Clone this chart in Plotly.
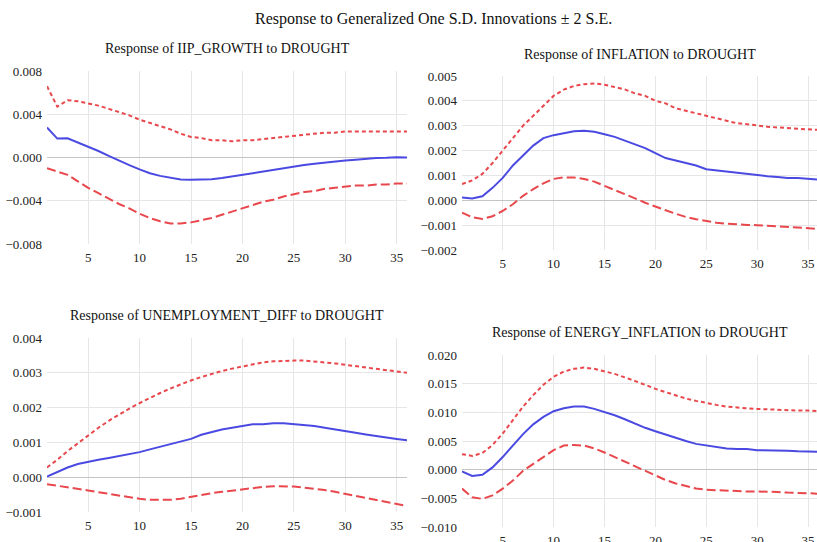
import plotly.graph_objects as go

W, H = 817, 542

periods = list(range(1, 37))

# Response of IIP_GROWTH to DROUGHT
iip_resp = [0.00277, 0.00175, 0.00178, 0.0014, 0.0010, 0.0006, 0.00015, -0.0003, -0.0007, -0.0011,
            -0.00145, -0.0017, -0.0019, -0.00203, -0.00206, -0.00206, -0.0020, -0.0019, -0.00175, -0.0016,
            -0.00145, -0.0013, -0.0011, -0.00095, -0.00083, -0.0007, -0.00058, -0.00046, -0.00037, -0.00028,
            -0.0002, -0.0001, -0.00005, -0.00003, 0.00002, 0.0]
iip_upper = [0.0066, 0.0047, 0.0053, 0.0052, 0.0050, 0.0048, 0.0045, 0.0042, 0.0039, 0.0035,
             0.0032, 0.0029, 0.0026, 0.0022, 0.0019, 0.0018, 0.0016, 0.0016, 0.0015, 0.0016,
             0.0016, 0.0017, 0.0018, 0.0019, 0.0020, 0.0021, 0.0022, 0.0023, 0.0023, 0.0024,
             0.0024, 0.0024, 0.0024, 0.0024, 0.0024, 0.0024]
iip_lower = [-0.0010, -0.0013, -0.0016, -0.0022, -0.0028, -0.0033, -0.0038, -0.0043, -0.0047, -0.0052,
             -0.0056, -0.0059, -0.0061, -0.0061, -0.0060, -0.0058, -0.0056, -0.0053, -0.0050, -0.0047,
             -0.0044, -0.0041, -0.0039, -0.0036, -0.0034, -0.0032, -0.0031, -0.0029, -0.0028, -0.0027,
             -0.0026, -0.0026, -0.0025, -0.0025, -0.0024, -0.0024]

# Response of INFLATION to DROUGHT
infl_resp = [0.00011, 0.00007, 0.00016, 0.0005, 0.0009, 0.0014, 0.0018, 0.0022, 0.0025, 0.00262,
             0.0027, 0.00278, 0.0028, 0.00276, 0.00266, 0.00255, 0.0024, 0.00225, 0.0021, 0.0019,
             0.0017, 0.0016, 0.0015, 0.0014, 0.00125, 0.0012, 0.00115, 0.0011, 0.00105, 0.0010,
             0.00097, 0.00094, 0.0009, 0.0009, 0.00087, 0.00083]
infl_upper = [0.00065, 0.0008, 0.00106, 0.0015, 0.0020, 0.0025, 0.0030, 0.0034, 0.0038, 0.0042,
              0.00445, 0.0046, 0.00467, 0.0047, 0.00465, 0.00457, 0.00446, 0.0043, 0.0042, 0.0040,
              0.0039, 0.0037, 0.0036, 0.0035, 0.0034, 0.0033, 0.0032, 0.0031, 0.00306, 0.0030,
              0.00296, 0.00293, 0.0029, 0.00288, 0.00285, 0.00283]
infl_lower = [-0.0005, -0.00068, -0.00075, -0.00064, -0.00043, -0.00016, 0.00018, 0.00045, 0.00068, 0.00086,
              0.00092, 0.00092, 0.00086, 0.00075, 0.00058, 0.00042, 0.00024, 0.00008, -0.0001, -0.00026,
              -0.0004, -0.00054, -0.00067, -0.00076, -0.00084, -0.0009, -0.00094, -0.00097, -0.00099, -0.0010,
              -0.00102, -0.00105, -0.00107, -0.0011, -0.00113, -0.00115]

# Response of UNEMPLOYMENT_DIFF to DROUGHT
unemp_resp = [0.00002, 0.00015, 0.00028, 0.00038, 0.00045, 0.0005, 0.00055, 0.0006, 0.00066, 0.00072,
              0.0008, 0.00087, 0.00095, 0.00103, 0.0011, 0.00122, 0.0013, 0.00137, 0.00142, 0.00147,
              0.00152, 0.00152, 0.00155, 0.00155, 0.00153, 0.0015, 0.00147, 0.00142, 0.00138, 0.00133,
              0.00128, 0.00123, 0.00118, 0.00114, 0.0011, 0.00106]
unemp_upper = [0.00028, 0.0005, 0.00075, 0.00098, 0.0012, 0.00142, 0.00162, 0.0018, 0.00197, 0.00213,
               0.00228, 0.00242, 0.00255, 0.00267, 0.00278, 0.00288, 0.00297, 0.00305, 0.00312, 0.00318,
               0.00326, 0.0033, 0.00333, 0.00335, 0.00335, 0.00335, 0.00333, 0.0033, 0.00327, 0.00323,
               0.00319, 0.00315, 0.00311, 0.00307, 0.00303, 0.0030]
unemp_lower = [-0.0002, -0.00024, -0.00028, -0.00033, -0.00038, -0.00043, -0.00048, -0.00053, -0.00058, -0.00062,
               -0.00065, -0.00066, -0.00065, -0.00062, -0.00056, -0.00051, -0.00046, -0.00042, -0.00038, -0.00034,
               -0.0003, -0.00028, -0.00026, -0.00026, -0.00027, -0.0003, -0.00033, -0.00037, -0.00042, -0.00048,
               -0.00053, -0.00058, -0.00064, -0.0007, -0.00077, -0.00083]

# Response of ENERGY_INFLATION to DROUGHT
energy_resp = [-0.0003, -0.0011, -0.0009, 0.0004, 0.0022, 0.0043, 0.0062, 0.0079, 0.0092, 0.0102,
               0.0107, 0.0110, 0.0110, 0.0106, 0.0101, 0.0095, 0.0088, 0.0080, 0.0073, 0.0067,
               0.0061, 0.0055, 0.0050, 0.0045, 0.0042, 0.0039, 0.0037, 0.0036, 0.0036, 0.0034,
               0.0034, 0.0033, 0.0033, 0.0032, 0.0031, 0.0031]
energy_upper = [0.0027, 0.0024, 0.0029, 0.0043, 0.0063, 0.0086, 0.0110, 0.0130, 0.0148, 0.0162,
                0.0171, 0.0176, 0.0178, 0.0176, 0.0172, 0.0167, 0.0161, 0.0155, 0.0148, 0.0141,
                0.0135, 0.0129, 0.0124, 0.0120, 0.0116, 0.0113, 0.0110, 0.0108, 0.0107, 0.0106,
                0.0105, 0.0105, 0.0104, 0.0103, 0.0103, 0.0102]
energy_lower = [-0.0033, -0.0048, -0.0051, -0.0045, -0.0033, -0.0019, -0.0002, 0.0010, 0.0022, 0.0034,
                0.0042, 0.0043, 0.0042, 0.0037, 0.0030, 0.0022, 0.0014, 0.0006, -0.0003, -0.0011,
                -0.0018, -0.0024, -0.0029, -0.0033, -0.0035, -0.0036, -0.0037, -0.0038, -0.0038, -0.0038,
                -0.0038, -0.0039, -0.0040, -0.0040, -0.0041, -0.0042]

x_ticks = [5, 10, 15, 20, 25, 30, 35]

panels = [
    dict(title="Response of IIP_GROWTH to DROUGHT", resp=iip_resp, upper=iip_upper, lower=iip_lower,
         yticks=[-0.008, -0.004, 0.0, 0.004, 0.008], yrange=[-0.008, 0.008],
         xpx=(47, 407), ypx=(71, 244), title_y=48, xmax=36),
    dict(title="Response of INFLATION to DROUGHT", resp=infl_resp, upper=infl_upper, lower=infl_lower,
         yticks=[-0.002, -0.001, 0.0, 0.001, 0.002, 0.003, 0.004, 0.005], yrange=[-0.002, 0.005],
         xpx=(462, 817), ypx=(76, 250), title_y=55, xmax=35.88),
    dict(title="Response of UNEMPLOYMENT_DIFF to DROUGHT", resp=unemp_resp, upper=unemp_upper, lower=unemp_lower,
         yticks=[-0.001, 0.0, 0.001, 0.002, 0.003, 0.004], yrange=[-0.001, 0.004],
         xpx=(47, 407), ypx=(338, 512), title_y=315, xmax=36),
    dict(title="Response of ENERGY_INFLATION to DROUGHT", resp=energy_resp, upper=energy_upper, lower=energy_lower,
         yticks=[-0.010, -0.005, 0.0, 0.005, 0.010, 0.015, 0.020], yrange=[-0.010, 0.020],
         xpx=(462, 817), ypx=(355, 527), title_y=332, xmax=35.88),
]

FONT = "'Liberation Serif', 'Times New Roman', Times, serif"
BLUE = "#4a4ae2"
RED = "#e8474c"
GRID = "#e6e6e6"
ZERO = "#c4c4c4"

fig = go.Figure()
annotations = []
layout_axes = {}

for i, p in enumerate(panels, start=1):
    xa = "x" if i == 1 else f"x{i}"
    ya = "y" if i == 1 else f"y{i}"
    fig.add_trace(go.Scatter(x=periods, y=p["upper"], mode="lines", xaxis=xa, yaxis=ya,
                             line=dict(color=RED, width=2, dash="4px,3px"), hoverinfo="skip"))
    fig.add_trace(go.Scatter(x=periods, y=p["lower"], mode="lines", xaxis=xa, yaxis=ya,
                             line=dict(color=RED, width=2, dash="9px,4px"), hoverinfo="skip"))
    fig.add_trace(go.Scatter(x=periods, y=p["resp"], mode="lines", xaxis=xa, yaxis=ya,
                             line=dict(color=BLUE, width=2), hoverinfo="skip"))

    x0, x1 = p["xpx"]
    y0, y1 = p["ypx"]
    xkey = "xaxis" if i == 1 else f"xaxis{i}"
    ykey = "yaxis" if i == 1 else f"yaxis{i}"
    layout_axes[xkey] = dict(
        domain=[x0 / W, min(x1 / W, 1.0)], anchor=ya, range=[1, p["xmax"]],
        tickvals=x_ticks, ticktext=[str(t) for t in x_ticks],
        showgrid=True, gridcolor=GRID, gridwidth=1, zeroline=False, showline=False,
        ticks="", ticklabelstandoff=4, automargin=False,
        tickfont=dict(family=FONT, size=13, color="#222222"),
    )
    layout_axes[ykey] = dict(
        domain=[1 - y1 / H, 1 - y0 / H], anchor=xa, range=p["yrange"],
        tickvals=p["yticks"], tickformat=".3f",
        showgrid=True, gridcolor=GRID, gridwidth=1,
        zeroline=True, zerolinecolor=ZERO, zerolinewidth=1, showline=False,
        ticks="", ticklabelstandoff=4, automargin=False,
        tickfont=dict(family=FONT, size=13, color="#222222"),
    )
    annotations.append(dict(
        text=p["title"], xref="paper", yref="paper",
        x=(x0 + min(x1, W)) / 2 / W, y=1 - p["title_y"] / H,
        xanchor="center", yanchor="middle", showarrow=False,
        font=dict(family=FONT, size=14, color="#111111"),
    ))

annotations.append(dict(
    text="Response to Generalized One S.D. Innovations \u00b1 2 S.E.",
    xref="paper", yref="paper", x=433 / W, y=1 - 19 / H,
    xanchor="center", yanchor="middle", showarrow=False,
    font=dict(family=FONT, size=16, color="#111111"),
))

fig.update_layout(
    width=W, height=H,
    margin=dict(l=0, r=0, t=0, b=0, autoexpand=False),
    paper_bgcolor="white", plot_bgcolor="white",
    showlegend=False,
    font=dict(family=FONT),
    annotations=annotations,
    **layout_axes,
)

fig.write_html("out.html")
